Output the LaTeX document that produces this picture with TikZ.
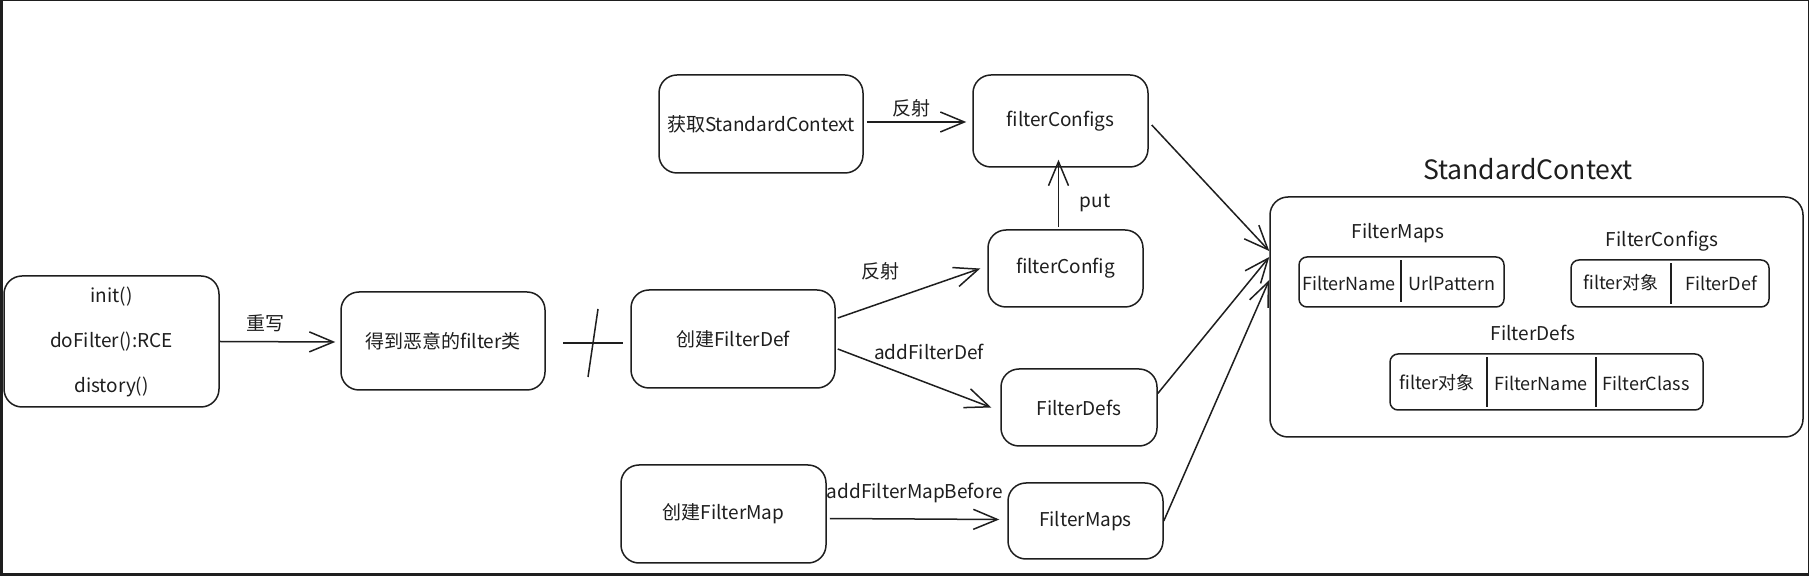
\documentclass[tikz,border=0pt]{standalone}
\usepackage{fontspec}
\setmainfont{Noto Sans CJK SC}
\usetikzlibrary{arrows.meta,calc}
\definecolor{ink}{HTML}{1E1E1E}
\newcommand{\fs}{\fontsize{9.5}{11}\selectfont}
\newcommand{\fst}{\fontsize{9}{11}\selectfont}
\newcommand{\fsbig}{\fontsize{13.3}{15}\selectfont}
\tikzset{
  box/.style={draw=ink, line width=0.75pt, rounded corners=9pt, inner sep=0pt, font=\fs, text=ink},
  tbl/.style={draw=ink, line width=0.75pt, rounded corners=4pt, inner sep=0pt},
  arr/.style={draw=ink, line width=0.75pt, -{Straight Barb[length=12pt,width=10pt,line width=0.75pt]}},
  lbl/.style={font=\fs, inner sep=0pt, text=ink},
  cell/.style={font=\fst, inner sep=0pt, text=ink},
  pen/.style={draw=ink, line width=0.75pt},
}
\begin{document}
\begin{tikzpicture}[x=0.5pt,y=-0.5pt]
\useasboundingbox (0,0) rectangle (1809,576);
\fill[white] (0,0) rectangle (1809,576);
% frame
\fill[ink] (0,0) rectangle (2.5,576);
\fill[ink] (0,0) rectangle (1809,1.2);
\fill[ink] (1807.5,0) rectangle (1809,576);
\fill[ink] (0,573) rectangle (1809,576);

% boxes
\node[box, minimum width=107.5pt, minimum height=65.5pt, align=center, font=\fontsize{9.5}{22.5}\selectfont] (A) at (111.5,341.5) {init()\\doFilter():RCE\\distory()};
\node[box, minimum width=102pt, minimum height=49pt] (B) at (443,341) {得到恶意的filter类};
\node[box, minimum width=102pt, minimum height=49pt] (C) at (733,339) {创建FilterDef};
\node[box, minimum width=102pt, minimum height=49pt] (D) at (761,124) {获取StandardContext};
\node[box, minimum width=87.5pt, minimum height=46pt] (E) at (1060.5,121) {filterConfigs};
\node[box, minimum width=77.5pt, minimum height=38.5pt] (F) at (1065.5,268.5) {filterConfig};
\node[box, minimum width=78pt, minimum height=38.5pt] (G) at (1079,407.5) {FilterDefs};
\node[box, minimum width=102.5pt, minimum height=49pt] (H) at (723.5,514) {创建FilterMap};
\node[box, minimum width=77.5pt, minimum height=38pt] (I) at (1085.5,521) {FilterMaps};
\node[box, minimum width=266.5pt, minimum height=120pt] (SC) at (1536.5,317) {};
\node[lbl, font=\fsbig] (SCt) at (1528,169) {StandardContext};

% inner tables
\node[lbl] (lm) at (1398,233) {FilterMaps};
\node[lbl] (lc) at (1662,241) {FilterConfigs};
\node[lbl] (ld) at (1533,333) {FilterDefs};
\node[tbl, minimum width=102.5pt, minimum height=25pt] (T1) at (1401.5,282) {};
\node[tbl, minimum width=99pt, minimum height=23.5pt] (T2) at (1670,283.5) {};
\node[tbl, minimum width=156.5pt, minimum height=28pt] (T3) at (1546.5,382) {};
\coordinate (d1) at (1401,0);
\coordinate (d2) at (1671,0);
\coordinate (d3) at (1487,0);
\coordinate (d4) at (1596,0);
\draw[pen] ([yshift=-2pt]T1.north -| d1) -- ([yshift=3pt]T1.south -| d1);
\draw[pen] ([yshift=-2pt]T2.north -| d2) -- ([yshift=2pt]T2.south -| d2);
\draw[pen] ([yshift=-2pt]T3.north -| d3) -- ([yshift=2pt]T3.south -| d3);
\draw[pen] ([yshift=-2pt]T3.north -| d4) -- ([yshift=2pt]T3.south -| d4);
\node[cell] (c11) at (1349,283) {FilterName};
\node[cell] (c12) at (1452,283) {UrlPattern};
\node[cell] (c21) at (1621,283) {filter对象};
\node[cell] (c22) at (1721,283) {FilterDef};
\node[cell] (c31) at (1437,383) {filter对象};
\node[cell] (c32) at (1541,383) {FilterName};
\node[cell] (c33) at (1646,383) {FilterClass};

% cross mark
\draw[pen] (563,343) -- (623,343);
\draw[pen] (598,309) -- (588,377);

% connectors
\draw[arr] (A.east) -- ([xshift=-2.5pt,yshift=-0.5pt]B.west);
\node[lbl] (l1) at (265,323) {重写};
\draw[arr] ([xshift=1.5pt,yshift=1pt]D.east) -- ([xshift=-3pt,yshift=-0.5pt]E.west);
\node[lbl] (l2) at (911,108) {反射};
\draw[arr] ([xshift=1pt,yshift=10.5pt]C.east) -- ([xshift=-3.5pt]F.west);
\node[lbl] (l3) at (880,271) {反射};
\draw[arr] ([xshift=1pt,yshift=-5pt]C.east) -- ([xshift=-4.5pt]G.west);
\node[lbl] (l4) at (929,352) {addFilterDef};
\draw[arr] ([xshift=-3.5pt,yshift=1pt]F.north) -- ([xshift=-1pt,yshift=4pt]E.south);
\node[lbl] (l5) at (1095,203) {put};
\draw[arr] ([xshift=1.5pt,yshift=-2.25pt]H.east) -- ([xshift=-4pt,yshift=0.75pt]I.west);
\node[lbl] (l6) at (915,493) {addFilterMapBefore};
\draw[arr] ([xshift=1.5pt,yshift=-2pt]E.east) -- ([yshift=33pt]SC.west);
\draw[arr] ([yshift=7pt]G.east) -- ([yshift=30pt]SC.west);
\draw[arr] (I.east) -- ([yshift=18.5pt]SC.west);
\end{tikzpicture}
\end{document}
